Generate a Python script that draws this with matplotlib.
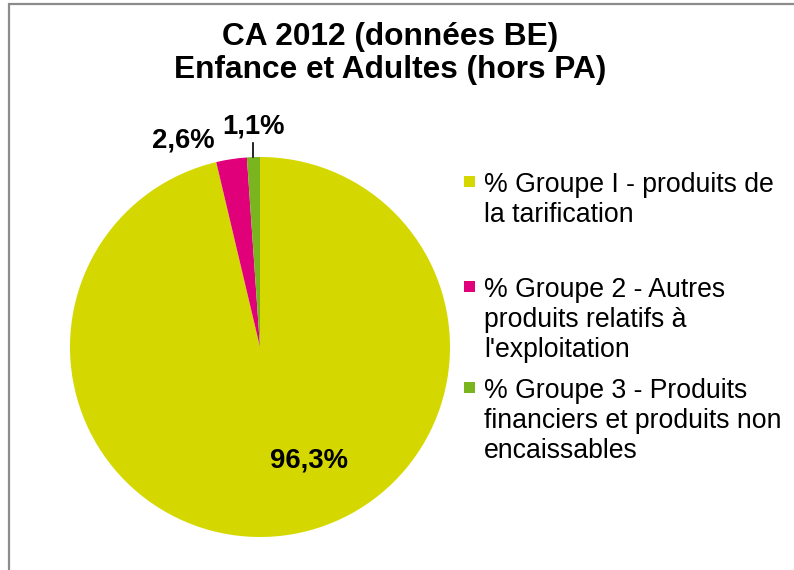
import matplotlib
matplotlib.use("Agg")
import matplotlib.pyplot as plt
from matplotlib.patches import Rectangle
import numpy as np

plt.rcParams['font.family'] = ['Liberation Sans', 'DejaVu Sans']

# data
title = "CA 2012 (données BE)\nEnfance et Adultes (hors PA)"
groups = ["% Groupe I - produits de\nla tarification",
          "% Groupe 2 - Autres\nproduits relatifs à\nl'exploitation",
          "% Groupe 3 - Produits\nfinanciers et produits non\nencaissables"]
shares = [96.3, 2.6, 1.1]
share_labels = ["96,3%", "2,6%", "1,1%"]
colors = ["#d4d800", "#e0007a", "#7ab51f"]

W, H = 794, 570
fig = plt.figure(figsize=(W / 100, H / 100), dpi=100)

def fx(px):
    return px / W

def fy(py):
    return 1 - py / H

# chart border (cut by the right / bottom edges)
fig.add_artist(Rectangle((fx(9), -0.1), 1.2, fy(4) + 0.1, fill=False,
                         edgecolor="#8c8c8c", lw=1.6, transform=fig.transFigure))

fig.text(fx(390), fy(53.5), title, ha='center', va='center', fontsize=22.8,
         fontweight='bold', linespacing=1.17)

# pie: centre (260, 347), radius 190 px
ax = fig.add_axes([fx(70), fy(537), fx(380), 380 / H])
wedges, _ = ax.pie(shares, colors=colors, startangle=90, counterclock=False,
                   radius=1, wedgeprops=dict(linewidth=0))
ax.set_xlim(-1, 1)
ax.set_ylim(-1, 1)
ax.set_aspect('equal')
ax.axis('off')

# data labels (placed like Excel did)
label_pos = [(0.258, -0.595), (-0.405, 1.089), (None, 1.158)]
for w, lab, (lx, ly) in zip(wedges, share_labels, label_pos):
    mid = np.deg2rad((w.theta1 + w.theta2) / 2)
    if lx is None:
        lx = np.cos(mid)
        ax.plot([lx, lx], [1.0, 1.074], color='black', lw=1.2, clip_on=False)
    ax.text(lx, ly, lab, ha='center', va='center', fontsize=19.8,
            fontweight='bold', clip_on=False)

# legend drawn by hand to keep Excel's spacing
leg_base = [192, 297, 398]   # baseline of first line of each entry
line_h = 30
for g, c, yb in zip(groups, colors, leg_base):
    fig.add_artist(Rectangle((fx(464), fy(yb - 5)), fx(11), 11 / H,
                             facecolor=c, edgecolor='none',
                             transform=fig.transFigure))
    last = yb + line_h * g.count('\n')
    fig.text(fx(484), fy(last), g, ha='left', va='baseline', fontsize=19.2,
             linespacing=1.21)

fig.savefig("out.png", dpi=100)
